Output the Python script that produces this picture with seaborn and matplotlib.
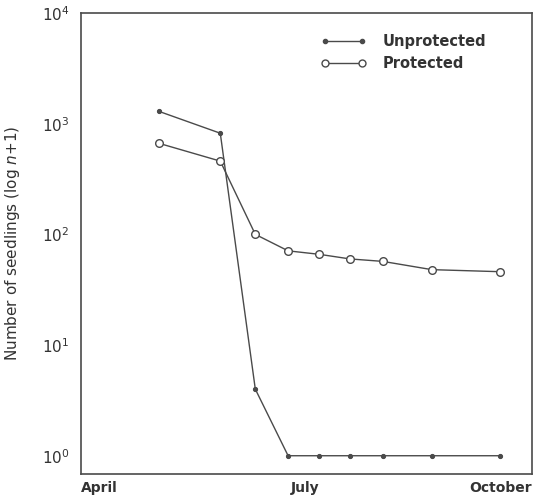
import matplotlib
matplotlib.use("Agg")
import matplotlib.pyplot as plt
import seaborn as sns
import pandas as pd
import numpy as np
from matplotlib.lines import Line2D
from matplotlib.ticker import FixedLocator, NullLocator

# Days since 1 April
days = [31.6, 56.6, 70.8, 84.1, 96.8, 109.2, 122.5, 142.4, 170.0]
unprotected = [1295, 820, 4, 1, 1, 1, 1, 1, 1]
protected = [666, 459, 100, 71, 66, 60, 57, 48, 46]
month_ticks = [0, 91, 183]
month_labels = ["April", "July", "October"]
y_ticks = [1, 10, 100, 1000, 10000]
y_labels = [r"$10^0$", r"$10^1$", r"$10^2$", r"$10^3$", r"$10^4$"]

sns.set_style("white")
plt.rcParams['font.family'] = ['DejaVu Sans']
plt.rcParams['mathtext.fontset'] = 'dejavusans'

col = "#4a4a4a"
fig = plt.figure(figsize=(5.34, 5.01), dpi=100)
ax = fig.add_axes([80.7/534, 27/501, (532-80.7)/534, (474-13)/501])

df = pd.DataFrame({"day": days, "Unprotected": unprotected, "Protected": protected})
sns.lineplot(data=df, x="day", y="Unprotected", ax=ax, color=col, lw=1.0,
             marker="o", markersize=3, markerfacecolor=col, markeredgecolor=col, sort=False)
sns.lineplot(data=df, x="day", y="Protected", ax=ax, color=col, lw=1.0,
             marker="o", markersize=5.5, markerfacecolor="white", markeredgecolor=col,
             markeredgewidth=1.0, sort=False)

ax.set_yscale("log")
ax.set_ylim(10**-0.165, 10**4)
ax.set_xlim(0, 183)
ax.yaxis.set_major_locator(FixedLocator(y_ticks))
ax.yaxis.set_minor_locator(NullLocator())
ax.set_yticklabels(y_labels)
ax.set_xticks(month_ticks)
ax.set_xticklabels(month_labels, fontweight="bold")
xl = ax.get_xticklabels()
xl[0].set_ha("left")
xl[2].set_ha("right")

ax.tick_params(axis="both", direction="in", length=6, width=1, color=col,
               labelcolor="#333333", labelsize=10)
ax.tick_params(axis="x", pad=5)
ax.tick_params(axis="y", pad=8, labelsize=11)

for s in ax.spines.values():
    s.set_color(col)
    s.set_linewidth(1.2)
    s.set_visible(True)

ax.set_xlabel("")
ax.set_ylabel(r"Number of seedlings (log $n$+1)", fontsize=11, color="#333333")
ax.yaxis.set_label_coords((22-80.7)/451.3, 0.5)

handles = [
    Line2D([], [], color=col, lw=1.0, marker="o", markersize=3,
           markerfacecolor=col, markeredgecolor=col),
    Line2D([], [], color=col, lw=1.0, marker="o", markersize=5,
           markerfacecolor="white", markeredgecolor=col),
]
leg = fig.legend(handles, ["Unprotected", "Protected"], loc="upper left",
                 bbox_to_anchor=(321/534, (501-34)/501), frameon=False,
                 numpoints=2, handlelength=3.1, handletextpad=1.15,
                 borderpad=0, borderaxespad=0, labelspacing=0.5,
                 prop={"size": 10.5, "weight": "bold"})
for t in leg.get_texts():
    t.set_color("#333333")

fig.savefig("out.png", dpi=100)
